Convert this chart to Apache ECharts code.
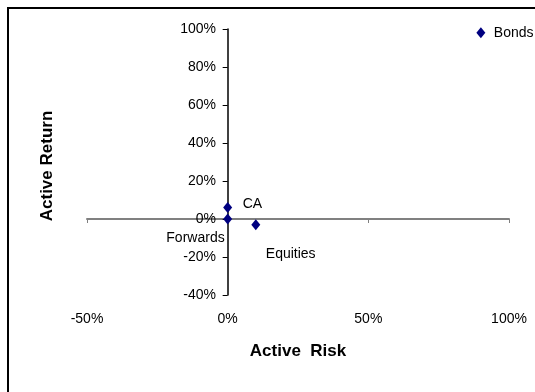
<!DOCTYPE html>
<html lang="en">
<head>
  <meta charset="utf-8">
  <title>Active Risk vs Active Return</title>
  <script src="https://cdn.jsdelivr.net/npm/echarts@6/dist/echarts.min.js"></script>
  <style>
    html, body { margin: 0; padding: 0; background: #fff; }
    #container { width: 535px; height: 392px; }
  </style>
</head>
<body>
<div id="container"></div>
<script>
  // data
  var names = ['Bonds', 'CA', 'Forwards', 'Equities'];
  var activeRisk = [0.90, 0.00, 0.00, 0.10];
  var activeReturn = [0.98, 0.06, 0.00, -0.03];
  var xTicks = [-0.5, 0, 0.5, 1];
  var yTicks = [-0.4, -0.2, 0, 0.2, 0.4, 0.6, 0.8, 1];

  // label placement per point (align, offset)
  var labelPos = {
    'Bonds':    { align: 'left',  offset: [13, 0] },
    'CA':       { align: 'left',  offset: [15, -3] },
    'Forwards': { align: 'right', offset: [-3, 19] },
    'Equities': { align: 'left',  offset: [10, 29] }
  };

  var font = 'Liberation Sans, Arial, sans-serif';
  var pct = function (v) { return Math.round(v * 100) + '%'; };

  var points = names.map(function (n, i) {
    return {
      name: n,
      value: [activeRisk[i], activeReturn[i]],
      label: {
        show: true,
        position: 'inside',
        align: labelPos[n].align,
        verticalAlign: 'middle',
        offset: labelPos[n].offset,
        formatter: n,
        color: '#000',
        fontFamily: font,
        fontSize: 14
      }
    };
  });

  var myChart = echarts.init(document.getElementById('container'));
  var option = {
    animation: false,
    backgroundColor: '#fff',
    graphic: [{
      type: 'rect',
      shape: { x: 8, y: 8, width: 560, height: 420 },
      style: { fill: null, stroke: '#000', lineWidth: 2 },
      silent: true
    }],
    grid: { left: 87, right: 26, top: 29, bottom: 97 },
    xAxis: [{
      type: 'value',
      min: xTicks[0], max: xTicks[xTicks.length - 1], interval: 0.5,
      axisLine: { onZero: true, lineStyle: { color: '#808080', width: 2 } },
      axisTick: { show: true, length: 4, lineStyle: { color: '#808080' } },
      axisLabel: { show: false },
      splitLine: { show: false }
    }, {
      type: 'value',
      position: 'bottom',
      min: xTicks[0], max: xTicks[xTicks.length - 1], interval: 0.5,
      axisLine: { show: false, onZero: false },
      axisTick: { show: false },
      axisLabel: { margin: 17, formatter: pct, color: '#000', fontFamily: font, fontSize: 14 },
      splitLine: { show: false },
      name: 'Active  Risk',
      nameLocation: 'middle',
      nameGap: 48,
      nameTextStyle: { color: '#000', fontFamily: font, fontSize: 17, fontWeight: 'bold' }
    }],
    yAxis: [{
      type: 'value',
      min: yTicks[0], max: yTicks[yTicks.length - 1], interval: 0.2,
      axisLine: { onZero: true, lineStyle: { color: '#000', width: 1.5 } },
      axisTick: { show: true, length: 5, lineStyle: { color: '#000' } },
      // labels stay at the grid edge, so pull them in next to the zero line
      axisLabel: { margin: -129, formatter: pct, color: '#000', fontFamily: font, fontSize: 14 },
      splitLine: { show: false }
    }, {
      type: 'value',
      position: 'left',
      min: yTicks[0], max: yTicks[yTicks.length - 1], interval: 0.2,
      axisLine: { show: false, onZero: false },
      axisTick: { show: false },
      axisLabel: { show: false },
      splitLine: { show: false },
      name: 'Active Return',
      nameLocation: 'middle',
      nameGap: 31,
      nameTextStyle: { color: '#000', fontFamily: font, fontSize: 17, fontWeight: 'bold', padding: [0, 8, 0, 0] }
    }],
    series: [{
      type: 'scatter',
      xAxisIndex: 0,
      yAxisIndex: 0,
      symbol: 'diamond',
      symbolSize: [9, 11],
      itemStyle: { color: '#000080', opacity: 1 },
      data: points
    }]
  };
  myChart.setOption(option);
</script>
</body>
</html>
